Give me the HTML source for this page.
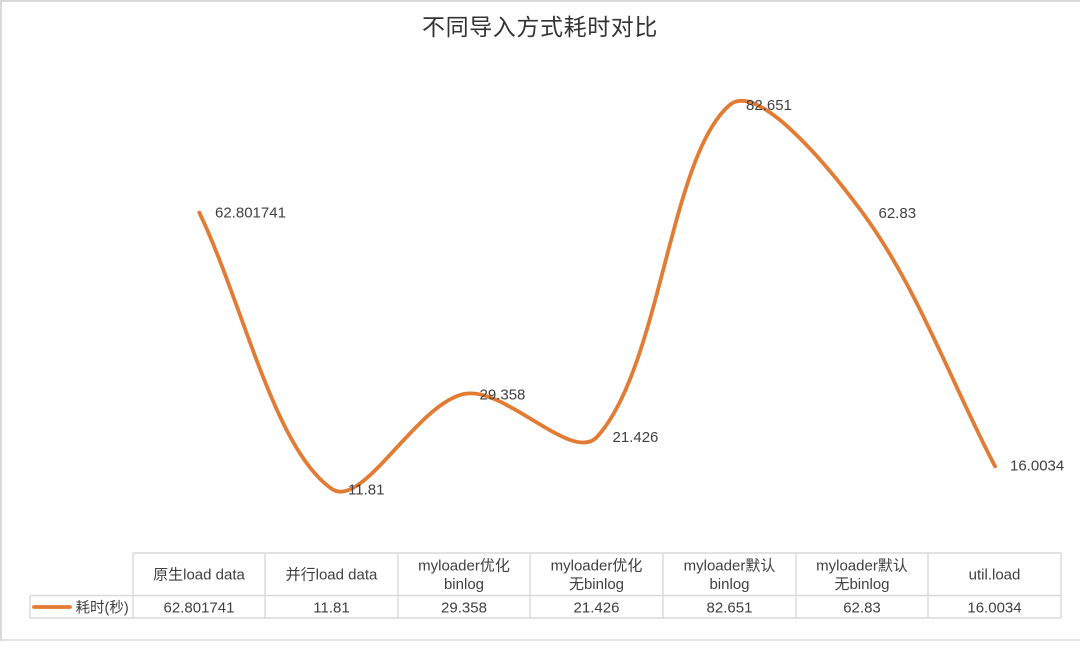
<!DOCTYPE html>
<html>
<head>
<meta charset="utf-8">
<style>
  html, body { margin: 0; padding: 0; background: #ffffff; }
  body { width: 1080px; height: 650px; overflow: hidden; }
  svg { display: block; }
  text { font-family: "Liberation Sans", "Noto Sans CJK SC", sans-serif; fill: #404040; }
</style>
</head>
<body>
<svg width="1080" height="650" viewBox="0 0 1080 650" xmlns="http://www.w3.org/2000/svg">
  <rect x="0" y="0" width="1080" height="650" fill="#ffffff"/>
  <!-- outer frame -->
  <line x1="0" y1="1" x2="1080" y2="1" stroke="#d9d9d9" stroke-width="2"/>
  <line x1="1" y1="0" x2="1" y2="641" stroke="#d9d9d9" stroke-width="2"/>
  <line x1="0" y1="640" x2="1080" y2="640" stroke="#d9d9d9" stroke-width="1.5"/>

  <!-- title -->
  <text x="540" y="35" text-anchor="middle" font-size="23" style="fill:#333333" letter-spacing="0.6">不同导入方式耗时对比</text>

  <!-- series -->
  <path d="M199.3,212.6 C243.5,304.8 274.3,449.5 332,489 C362.7,510 416.9,403.1 464.5,393.9 C505.2,385.9 572.2,463.8 597,436.9 C660.6,367.5 669.9,155.5 729.7,105 C758.3,80.9 829.3,167.5 862.3,212.4 C917.7,287.7 950.8,381.8 995,466.3"
        fill="none" stroke="#E27B33" stroke-width="3.8" stroke-linecap="round" stroke-linejoin="round"/>

  <!-- data labels -->
  <g font-size="15">
    <text x="215" y="217.5">62.801741</text>
    <text x="348" y="494.5">11.81</text>
    <text x="479.5" y="399.5">29.358</text>
    <text x="612.5" y="442">21.426</text>
    <text x="746" y="110">82.651</text>
    <text x="878.5" y="218">62.83</text>
    <text x="1010" y="470.5">16.0034</text>
  </g>

  <!-- data table grid -->
  <g stroke="#d9d9d9" stroke-width="1.4" fill="none">
    <line x1="133" y1="553" x2="1061" y2="553"/>
    <line x1="30" y1="595.5" x2="1061" y2="595.5"/>
    <line x1="30" y1="618" x2="1061" y2="618"/>
    <line x1="30" y1="595.5" x2="30" y2="618"/>
    <line x1="133" y1="553" x2="133" y2="618"/>
    <line x1="265" y1="553" x2="265" y2="618"/>
    <line x1="398" y1="553" x2="398" y2="618"/>
    <line x1="530" y1="553" x2="530" y2="618"/>
    <line x1="663" y1="553" x2="663" y2="618"/>
    <line x1="796" y1="553" x2="796" y2="618"/>
    <line x1="928" y1="553" x2="928" y2="618"/>
    <line x1="1061" y1="553" x2="1061" y2="618"/>
  </g>

  <!-- header texts -->
  <g font-size="15" text-anchor="middle">
    <text x="199" y="579.5">原生load data</text>
    <text x="331.5" y="579.5">并行load data</text>
    <text x="464" y="570.5">myloader优化</text>
    <text x="464" y="589">binlog</text>
    <text x="596.5" y="570.5">myloader优化</text>
    <text x="596.5" y="589">无binlog</text>
    <text x="729.5" y="570.5">myloader默认</text>
    <text x="729.5" y="589">binlog</text>
    <text x="862" y="570.5">myloader默认</text>
    <text x="862" y="589">无binlog</text>
    <text x="994.5" y="579.5">util.load</text>
  </g>

  <!-- data row -->
  <line x1="34" y1="607" x2="70" y2="607" stroke="#E27B33" stroke-width="3.8" stroke-linecap="round"/>
  <text x="75.5" y="612.5" font-size="14.5">耗时(秒)</text>
  <g font-size="15" text-anchor="middle">
    <text x="199" y="612.5">62.801741</text>
    <text x="331.5" y="612.5">11.81</text>
    <text x="464" y="612.5">29.358</text>
    <text x="596.5" y="612.5">21.426</text>
    <text x="729.5" y="612.5">82.651</text>
    <text x="862" y="612.5">62.83</text>
    <text x="994.5" y="612.5">16.0034</text>
  </g>
</svg>
</body>
</html>
